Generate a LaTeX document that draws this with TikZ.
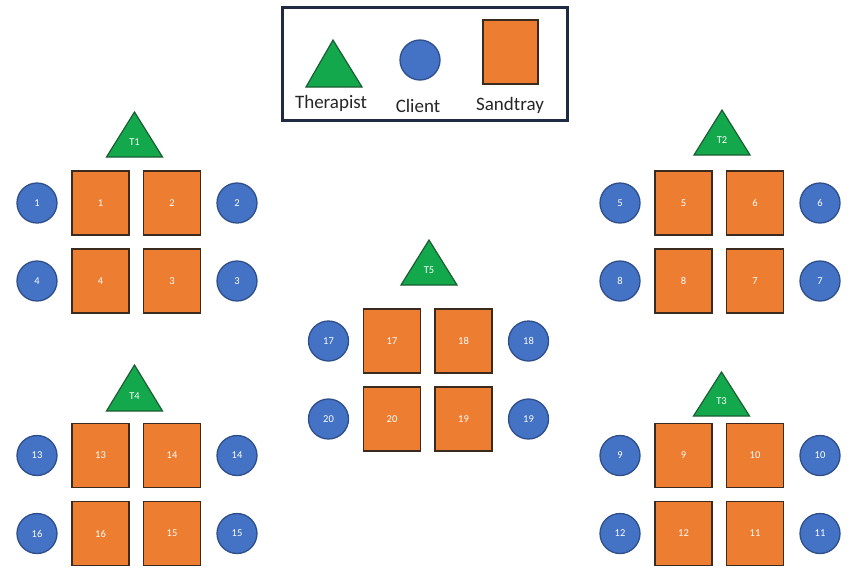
\documentclass[tikz,border=0pt]{standalone}
\usepackage{fontspec}
\setmainfont{Carlito}
\definecolor{trayfill}{HTML}{ED7D31}
\definecolor{trayline}{HTML}{3B2A1E}
\definecolor{clientfill}{HTML}{4472C4}
\definecolor{clientline}{HTML}{2F4F8A}
\definecolor{therfill}{HTML}{12A84B}
\definecolor{therline}{HTML}{1C5E34}
\definecolor{legline}{HTML}{1F2A44}
\tikzset{
  tray/.style={draw=trayline, fill=trayfill, line width=1.3pt, minimum width=57pt, minimum height=64pt, inner sep=0pt, text=white, font=\fontsize{10.5}{12}\selectfont},
  client/.style={circle, draw=clientline, fill=clientfill, line width=1.3pt, minimum size=40pt, inner sep=0pt, text=white, font=\fontsize{10.5}{12}\selectfont},
  ther/.style={draw=therline, fill=therfill, line width=1.2pt, line join=miter},
  therlabel/.style={inner sep=0pt, text=white, font=\fontsize{10.5}{12}\selectfont},
  leglabel/.style={inner sep=0pt, anchor=base, text=black!85, font=\fontsize{19}{22}\selectfont},
}
\newcommand\sgroup[6]{%
  \node[tray] (s#3) at ({100.5+#1},{203+#2}) {#3};
  \node[tray] (s#4) at ({172+#1},{203+#2}) {#4};
  \node[tray] (s#5) at ({172+#1},{281+#2}) {#5};
  \node[tray] (s#6) at ({100.5+#1},{281+#2}) {#6};
  \node[client] (c#3) at ({37+#1},{203+#2}) {#3};
  \node[client] (c#4) at ({237+#1},{203+#2}) {#4};
  \node[client] (c#5) at ({237+#1},{281+#2}) {#5};
  \node[client] (c#6) at ({37+#1},{281+#2}) {#6};
}
\newcommand\thertri[4]{%
  \coordinate (#1a) at ({#2},{#3});
  \coordinate (#1l) at ({#2-28},{#4});
  \coordinate (#1r) at ({#2+28},{#4});
  \draw[ther] (#1l) -- (#1a) -- (#1r) -- cycle;
  \node[therlabel] (#1) at ({#2},{#3+2*(#4-#3)/3}) {#1};
}
\begin{document}
\begin{tikzpicture}[x=1pt,y=-1pt]
\useasboundingbox[fill=white] (0,0) rectangle (856,581);
% legend
\node[draw=legline, line width=3pt, minimum width=285pt, minimum height=113pt, inner sep=0pt] (legend) at (424.5,63.5) {};
\coordinate (lta) at (333,40);
\coordinate (ltl) at (306,87);
\coordinate (ltr) at (362,87);
\draw[ther] (ltl) -- (lta) -- (ltr) -- cycle;
\node[circle, draw=clientline, fill=clientfill, line width=1.3pt, minimum size=40pt, inner sep=0pt] (legclient) at (420,60) {};
\node[draw=trayline, fill=trayfill, line width=1.3pt, minimum width=55pt, minimum height=64pt, inner sep=0pt] (legtray) at (510.5,52) {};
\node[leglabel] (lther) at (331,108) {Therapist};
\node[leglabel] (lcli) at (418,112) {Client};
\node[leglabel] (lsand) at (510,110) {Sandtray};
% groups
\sgroup{0}{0}{1}{2}{3}{4}
\sgroup{583}{0}{5}{6}{7}{8}
\sgroup{291.5}{138}{17}{18}{19}{20}
\sgroup{0}{252.5}{13}{14}{15}{16}
\sgroup{583}{252.5}{9}{10}{11}{12}
% therapists
\thertri{T1}{134.5}{112}{157}
\thertri{T2}{722}{110}{155}
\thertri{T5}{429}{240}{285}
\thertri{T4}{134.5}{365}{411}
\thertri{T3}{721.5}{372}{416}
\end{tikzpicture}
\end{document}
